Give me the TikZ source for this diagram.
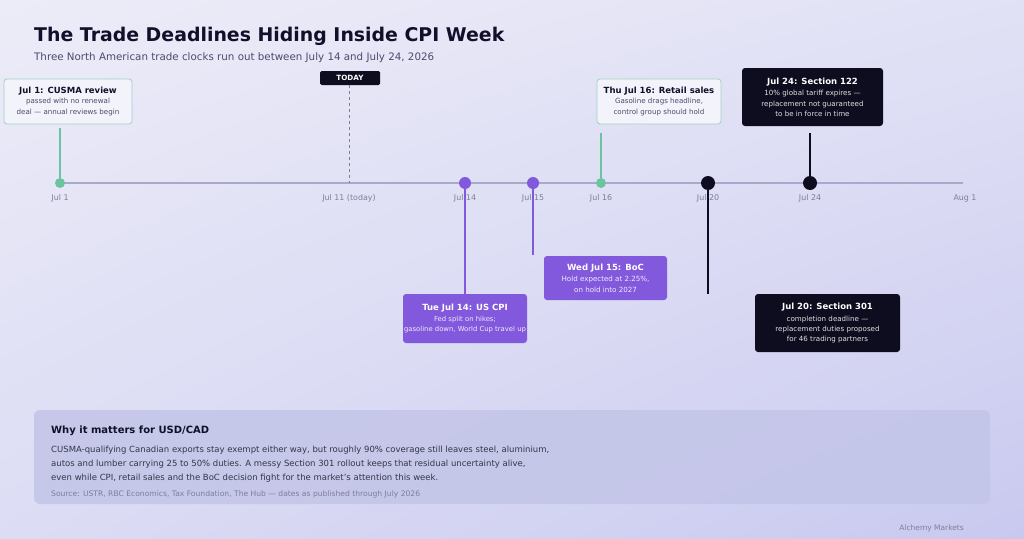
\documentclass[tikz,border=0pt]{standalone}
\usepackage{fontspec}
\setmainfont{DejaVu Sans}
\usetikzlibrary{positioning,shadings}
\definecolor{bgA}{HTML}{ECECF8}
\definecolor{bgB}{HTML}{C9C9F0}
\definecolor{ink}{HTML}{10102A}
\definecolor{sub}{HTML}{4A4B6A}
\definecolor{axisc}{HTML}{A9AACB}
\definecolor{lab}{HTML}{7D7E9C}
\definecolor{pur}{HTML}{8259DC}
\definecolor{teal}{HTML}{6CC3A0}
\definecolor{tealb}{HTML}{9BD3C0}
\definecolor{dark}{HTML}{0E0D20}
\definecolor{lightfill}{HTML}{F3F3FB}
\definecolor{panel}{HTML}{C3C5E8}
\tikzset{
  lightbox/.style={draw=tealb, line width=0.8pt, fill=lightfill, rounded corners=3pt, align=center, text=sub, font=\fontsize{7.1}{10.2}\selectfont},
  darkbox/.style={fill=dark, rounded corners=3pt, align=center, text=black!12, font=\fontsize{7.1}{10.2}\selectfont},
  purbox/.style={fill=pur, rounded corners=3pt, align=center, text=white!88!pur, font=\fontsize{7.1}{10.2}\selectfont},
  axlab/.style={text=lab, font=\fontsize{7.9}{9}\selectfont, anchor=center},
  dotT/.style={circle, fill=teal, inner sep=0pt, minimum size=10pt},
  dotP/.style={circle, fill=pur, inner sep=0pt, minimum size=12pt},
  dotD/.style={circle, fill=dark, inner sep=0pt, minimum size=14pt},
  stem/.style={line width=1.4pt},
}
\newcommand{\bt}[2]{\textbf{\color{#1}\fontsize{8.5}{10.2}\selectfont #2}}
\begin{document}
\begin{tikzpicture}[x=1pt,y=-1pt]
\useasboundingbox (0,0) rectangle (1024,538);
\shade[upper left=bgA, upper right=bgA!70!bgB, lower left=bgA!55!bgB, lower right=bgB] (0,0) rectangle (1024,538);

% title
\node[anchor=base west, inner sep=0pt, text=ink, font=\bfseries\fontsize{18.9}{20}\selectfont] (title) at (34,41) {The Trade Deadlines Hiding Inside CPI Week};
\node[anchor=base west, inner sep=0pt, text=sub, font=\fontsize{10.3}{12}\selectfont] (subtitle) at (34,60) {Three North American trade clocks run out between July 14 and July 24, 2026};

% axis
\coordinate (a0) at (60,183);
\coordinate (a1) at (963,183);
\draw[axisc, line width=1.6pt] (a0) -- (a1);

% today marker
\node[fill=dark, rounded corners=1.5pt, text=white, font=\bfseries\fontsize{7.2}{8}\selectfont, minimum width=60pt, minimum height=14pt, inner sep=0pt] (today) at (350,78) {TODAY};
\coordinate (t11) at (349,183);
\draw[lab, dashed, line width=0.7pt] (today.south -| t11) -- (t11);

% dots
\node[dotT] (d1) at (60,183) {};
\node[dotP] (d14) at (465,183) {};
\node[dotP] (d15) at (533,183) {};
\node[dotT] (d16) at (601,183) {};
\node[dotD] (d20) at (708,183) {};
\node[dotD] (d24) at (810,183) {};

% axis labels
\node[axlab] (l1) at (60,198) {Jul 1};
\node[axlab] (l11) at (349,198) {Jul 11 (today)};
\node[axlab] (l14) at (465,198) {Jul 14};
\node[axlab] (l15) at (533,198) {Jul 15};
\node[axlab] (l16) at (601,198) {Jul 16};
\node[axlab] (l20) at (708,198) {Jul 20};
\node[axlab] (l24) at (810,198) {Jul 24};
\node[axlab] (l31) at (965,198) {Aug 1};

% boxes
\node[lightbox, minimum width=128pt, minimum height=45pt, inner sep=2pt] (cusma) at (68,101.5)
  {\bt{ink}{Jul 1: CUSMA review}\\passed with no renewal\\deal — annual reviews begin};
\node[lightbox, minimum width=124pt, minimum height=45pt, inner sep=2pt] (retail) at (659,101.5)
  {\bt{ink}{Thu Jul 16: Retail sales}\\Gasoline drags headline,\\control group should hold};
\node[darkbox, minimum width=141pt, minimum height=58pt, inner sep=2pt] (s122) at (812.5,97)
  {\bt{white}{Jul 24: Section 122}\\[1.5pt]10\% global tariff expires —\\replacement not guaranteed\\to be in force in time};
\node[purbox, minimum width=124pt, minimum height=49pt, inner xsep=0pt, inner ysep=1pt, font=\fontsize{6.85}{10.2}\selectfont] (cpi) at (465,318.5)
  {\bt{white}{Tue Jul 14: US CPI}\\[1.5pt]Fed split on hikes;\\gasoline down, World Cup travel up};
\node[purbox, minimum width=123pt, minimum height=44pt, inner sep=2pt] (boc) at (605.5,278)
  {\bt{white}{Wed Jul 15: BoC}\\[1.5pt]Hold expected at 2.25\%,\\on hold into 2027};
\node[darkbox, minimum width=145pt, minimum height=58pt, inner sep=2pt] (s301) at (827.5,323)
  {\bt{white}{Jul 20: Section 301}\\[1.5pt]completion deadline —\\replacement duties proposed\\for 46 trading partners};

% stems
\coordinate (e1) at (60,128);
\coordinate (e16) at (601,133);
\coordinate (e24) at (810,133);
\coordinate (e15) at (533,255);
\coordinate (e20) at (708,294);
\draw[teal, stem] (e1) -- (d1);
\draw[teal, stem] (e16) -- (d16);
\draw[dark, stem] (e24) -- (d24);
\draw[pur, stem] (d14) -- (cpi.north);
\draw[pur, stem] (d15) -- (e15);
\draw[dark, stem] (d20) -- (e20);

% panel
\node[fill=panel, fill opacity=0.85, rounded corners=6pt, minimum width=956pt, minimum height=94pt, inner sep=0pt] (panel) at (512,457) {};
\node[anchor=base west, inner sep=0pt, text=ink, font=\bfseries\fontsize{10}{11}\selectfont] (why) at (51,433) {Why it matters for USD/CAD};
\node[anchor=base west, inner sep=0pt, text=ink!85, font=\fontsize{8.5}{14}\selectfont, align=left] (body) at (51,480)
  {CUSMA-qualifying Canadian exports stay exempt either way, but roughly 90\% coverage still leaves steel, aluminium,\\
   autos and lumber carrying 25 to 50\% duties. A messy Section 301 rollout keeps that residual uncertainty alive,\\
   even while CPI, retail sales and the BoC decision fight for the market's attention this week.};
\node[anchor=base west, inner sep=0pt, text=lab, font=\fontsize{7.6}{8}\selectfont] (src) at (51,496)
  {Source: USTR, RBC Economics, Tax Foundation, The Hub — dates as published through July 2026};
\node[anchor=base east, inner sep=0pt, text=lab, font=\fontsize{7.5}{8}\selectfont] (brand) at (964,530) {Alchemy Markets};
\end{tikzpicture}
\end{document}
